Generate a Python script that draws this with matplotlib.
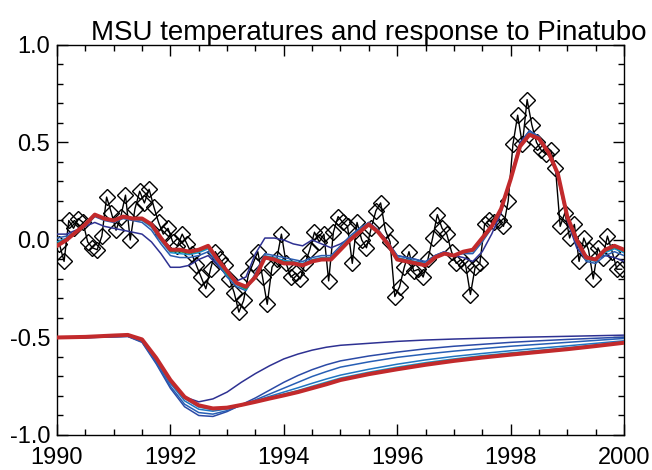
import numpy as np
import matplotlib
matplotlib.use("Agg")
import matplotlib.pyplot as plt
from matplotlib.ticker import MultipleLocator

plt.rcParams["font.family"] = ["Liberation Sans", "DejaVu Sans"]

# monthly MSU anomalies, Jan 1990 .. Dec 1999
msu = [
    -0.02, -0.11, 0.10, 0.06, 0.11, 0.09, -0.01, -0.04, -0.05, 0.02, 0.22, 0.14,
    0.05, 0.12, 0.23, 0.00, 0.16, 0.25, 0.19, 0.26, 0.17, 0.09, 0.03, 0.06,
    -0.01, -0.03, 0.03, -0.02, -0.07, -0.13, -0.19, -0.25, -0.15, -0.06, -0.10, -0.13,
    -0.20, -0.27, -0.37, -0.31, -0.18, -0.12, -0.06, -0.19, -0.33, -0.14, -0.10, 0.03,
    -0.12, -0.19, -0.17, -0.20, -0.12, -0.05, 0.04, -0.01, 0.03, -0.21, 0.04, 0.12,
    0.09, 0.07, -0.12, 0.09, 0.00, -0.04, 0.06, 0.15, 0.19, 0.05, -0.01, -0.29,
    -0.24, -0.14, -0.06, -0.16, -0.15, -0.19, -0.10, 0.01, 0.13, 0.06, 0.03, -0.06,
    -0.12, -0.10, -0.13, -0.28, -0.14, -0.12, 0.08, 0.10, 0.09, 0.10, 0.07, 0.20,
    0.49, 0.64, 0.49, 0.72, 0.59, 0.50, 0.46, 0.44, 0.46, 0.37, 0.07, 0.14,
    0.01, 0.08, -0.11, 0.01, -0.05, -0.20, -0.04, -0.09, 0.02, -0.06, -0.15, -0.15,
]

# fitted series (every two months, 1990.0 .. 2000.0), fastest -> slowest recovery
fit_darkblue = [
    0.03, 0.03, 0.05, 0.07, 0.09, 0.07,
    0.06, 0.05, 0.04, 0.03, -0.01, -0.07,
    -0.14, -0.14, -0.13, -0.10, -0.08, -0.13,
    -0.18, -0.21, -0.19, -0.07, 0.01, 0.01,
    0.00, -0.02, -0.03, 0.00, -0.02, -0.04,
    -0.02, 0.01, 0.05, 0.09, 0.05, -0.01,
    -0.08, -0.09, -0.10, -0.12, -0.08, -0.06,
    -0.08, -0.09, -0.11, -0.06, 0.03, 0.14,
    0.32, 0.50, 0.56, 0.53, 0.46, 0.32,
    0.10, -0.04, -0.10, -0.10, -0.08, -0.09,
    -0.11,
]
fit_blue = [
    0.01, 0.02, 0.04, 0.07, 0.12, 0.10,
    0.09, 0.11, 0.10, 0.09, 0.05, -0.02,
    -0.08, -0.09, -0.09, -0.08, -0.06, -0.12,
    -0.19, -0.24, -0.26, -0.17, -0.07, -0.08,
    -0.09, -0.10, -0.11, -0.09, -0.08, -0.08,
    -0.03, 0.02, 0.06, 0.09, 0.05, -0.01,
    -0.08, -0.09, -0.10, -0.11, -0.08, -0.06,
    -0.08, -0.07, -0.07, -0.01, 0.06, 0.15,
    0.31, 0.49, 0.56, 0.53, 0.45, 0.33,
    0.11, -0.02, -0.11, -0.12, -0.08, -0.06,
    -0.08,
]
fit_cyan = [
    -0.01, 0.01, 0.04, 0.075, 0.125, 0.105,
    0.095, 0.115, 0.105, 0.10, 0.065, -0.005,
    -0.065, -0.07, -0.075, -0.065, -0.045, -0.11,
    -0.18, -0.23, -0.255, -0.18, -0.08, -0.09,
    -0.105, -0.11, -0.12, -0.10, -0.09, -0.09,
    -0.04, 0.01, 0.05, 0.085, 0.045, -0.015,
    -0.09, -0.10, -0.11, -0.12, -0.085, -0.065,
    -0.08, -0.065, -0.06, 0.00, 0.065, 0.155,
    0.31, 0.485, 0.55, 0.525, 0.45, 0.335,
    0.115, -0.01, -0.10, -0.11, -0.065, -0.045,
    -0.065,
]
fit_green = [
    -0.02, 0.005, 0.04, 0.078, 0.128, 0.108,
    0.098, 0.118, 0.108, 0.105, 0.072, 0.003,
    -0.058, -0.06, -0.068, -0.058, -0.038, -0.105,
    -0.175, -0.225, -0.252, -0.185, -0.085, -0.095,
    -0.112, -0.115, -0.125, -0.105, -0.095, -0.095,
    -0.045, 0.005, 0.045, 0.082, 0.042, -0.018,
    -0.095, -0.105, -0.115, -0.125, -0.088, -0.068,
    -0.08, -0.062, -0.055, 0.005, 0.068, 0.158,
    0.31, 0.482, 0.545, 0.522, 0.45, 0.338,
    0.118, -0.005, -0.095, -0.105, -0.058, -0.038,
    -0.058,
]
fit_red = [
    -0.03, 0.00, 0.04, 0.08, 0.13, 0.11,
    0.10, 0.12, 0.11, 0.11, 0.08, 0.01,
    -0.05, -0.05, -0.06, -0.05, -0.03, -0.10,
    -0.16, -0.22, -0.24, -0.19, -0.09, -0.10,
    -0.12, -0.12, -0.13, -0.11, -0.10, -0.10,
    -0.05, 0.00, 0.04, 0.08, 0.04, -0.02,
    -0.10, -0.11, -0.12, -0.13, -0.09, -0.07,
    -0.08, -0.06, -0.05, 0.01, 0.07, 0.16,
    0.31, 0.48, 0.54, 0.52, 0.45, 0.34,
    0.12, 0.00, -0.09, -0.10, -0.05, -0.03,
    -0.05,
]

# Pinatubo response curves (offset to -0.5)
resp_years = [
    1990.0, 1990.5, 1991.0, 1991.25, 1991.5, 1991.75, 1992.0, 1992.25, 1992.5,
    1992.75, 1993.0, 1993.25, 1993.5, 1993.75, 1994.0, 1994.25, 1994.5, 1994.75,
    1995.0, 1995.5, 1996.0, 1996.5, 1997.0, 1997.5, 1998.0, 1998.5, 1999.0,
    1999.5, 2000.0,
]
resp_darkblue = [
    -0.502, -0.500, -0.495, -0.493, -0.520, -0.620, -0.735, -0.805, -0.830,
    -0.815, -0.780, -0.730, -0.685, -0.645, -0.610, -0.585, -0.565, -0.550,
    -0.540, -0.530, -0.520, -0.513, -0.508, -0.504, -0.500, -0.497, -0.494,
    -0.491, -0.488,
]
resp_blue1 = [
    -0.503, -0.501, -0.497, -0.495, -0.525, -0.635, -0.760, -0.855, -0.900,
    -0.905, -0.880, -0.845, -0.810, -0.770, -0.730, -0.695, -0.665, -0.640,
    -0.620, -0.595, -0.575, -0.558, -0.545, -0.535, -0.525, -0.517, -0.510,
    -0.504, -0.498,
]
resp_blue2 = [
    -0.503, -0.501, -0.496, -0.494, -0.522, -0.628, -0.750, -0.842, -0.885,
    -0.893, -0.875, -0.848, -0.820, -0.790, -0.760, -0.730, -0.700, -0.675,
    -0.652, -0.625, -0.602, -0.585, -0.570, -0.557, -0.545, -0.535, -0.525,
    -0.515, -0.505,
]
resp_blue3 = [
    -0.502, -0.499, -0.493, -0.490, -0.515, -0.615, -0.735, -0.825, -0.868,
    -0.878, -0.866, -0.846, -0.825, -0.802, -0.780, -0.758, -0.735, -0.713,
    -0.693, -0.663, -0.637, -0.615, -0.597, -0.582, -0.568, -0.555, -0.543,
    -0.530, -0.517,
]
resp_cyan = [
    -0.501, -0.498, -0.492, -0.489, -0.513, -0.608, -0.725, -0.813, -0.857,
    -0.871, -0.863, -0.846, -0.828, -0.808, -0.790, -0.772, -0.750, -0.729,
    -0.708, -0.678, -0.652, -0.629, -0.610, -0.593, -0.579, -0.566, -0.553,
    -0.538, -0.522,
]
resp_green = [
    -0.500, -0.497, -0.491, -0.488, -0.511, -0.606, -0.721, -0.809, -0.852,
    -0.867, -0.861, -0.846, -0.829, -0.810, -0.793, -0.776, -0.755, -0.734,
    -0.713, -0.683, -0.657, -0.634, -0.615, -0.598, -0.583, -0.570, -0.556,
    -0.541, -0.524,
]
resp_red = [
    -0.500, -0.497, -0.490, -0.487, -0.510, -0.605, -0.718, -0.805, -0.848,
    -0.864, -0.860, -0.846, -0.830, -0.813, -0.797, -0.780, -0.760, -0.740,
    -0.718, -0.688, -0.663, -0.640, -0.620, -0.603, -0.588, -0.574, -0.560,
    -0.544, -0.527,
]

months = 1990 + (np.arange(len(msu)) + 0.5) / 12.0
fit_years = 1990 + np.arange(len(fit_red)) / 6.0

RED = "#c22a2c"
fits = [fit_darkblue, fit_blue, fit_cyan, fit_green, fit_red]
fit_colors = ["#2e3192", "#2b5cb0", "#1c8fd0", "#00a651", RED]
resps = [resp_darkblue, resp_blue1, resp_blue2, resp_blue3, resp_cyan, resp_green, resp_red]
resp_colors = ["#2e3192", "#2b4aa6", "#275fb5", "#1f75c2", "#1c9ad6", "#00a651", RED]

fig = plt.figure(figsize=(6.52, 4.70), dpi=100)
ax = fig.add_axes([0.0874, 0.0745, 0.8696, 0.8298])

ax.plot(months, msu, color="black", lw=1.0, marker="D", ms=8.5,
        mfc="none", mec="black", mew=1.0, zorder=2)

for vals, col in zip(fits, fit_colors):
    lw = 2.9 if col == RED else 1.1
    ax.plot(fit_years, vals, color=col, lw=lw, zorder=3, solid_joinstyle="round")

for vals, col in zip(resps, resp_colors):
    lw = 2.9 if col == RED else 1.1
    ax.plot(resp_years, vals, color=col, lw=lw, zorder=3, solid_joinstyle="round")

ax.set_xlim(1990, 2000)
ax.set_ylim(-1.0, 1.0)
ax.xaxis.set_major_locator(MultipleLocator(2))
ax.xaxis.set_minor_locator(MultipleLocator(0.5))
ax.yaxis.set_minor_locator(MultipleLocator(0.1))
ax.set_yticks([-1.0, -0.5, 0.0, 0.5, 1.0])
ax.set_yticklabels(["-1.0", "-0.5", "0.0", "0.5", "1.0"])
ax.tick_params(which="both", direction="in", top=True, right=True, width=1.0,
               labelsize=17)
ax.tick_params(which="major", length=8)
ax.tick_params(which="minor", length=4)
ax.tick_params(axis="x", pad=9)
ax.tick_params(axis="y", pad=5)
for s in ax.spines.values():
    s.set_linewidth(1.0)

fig.text(0.565, 1 - 40 / 470, "MSU temperatures and response to Pinatubo",
         ha="center", va="baseline", fontsize=20)

fig.savefig("out.png", dpi=100)
